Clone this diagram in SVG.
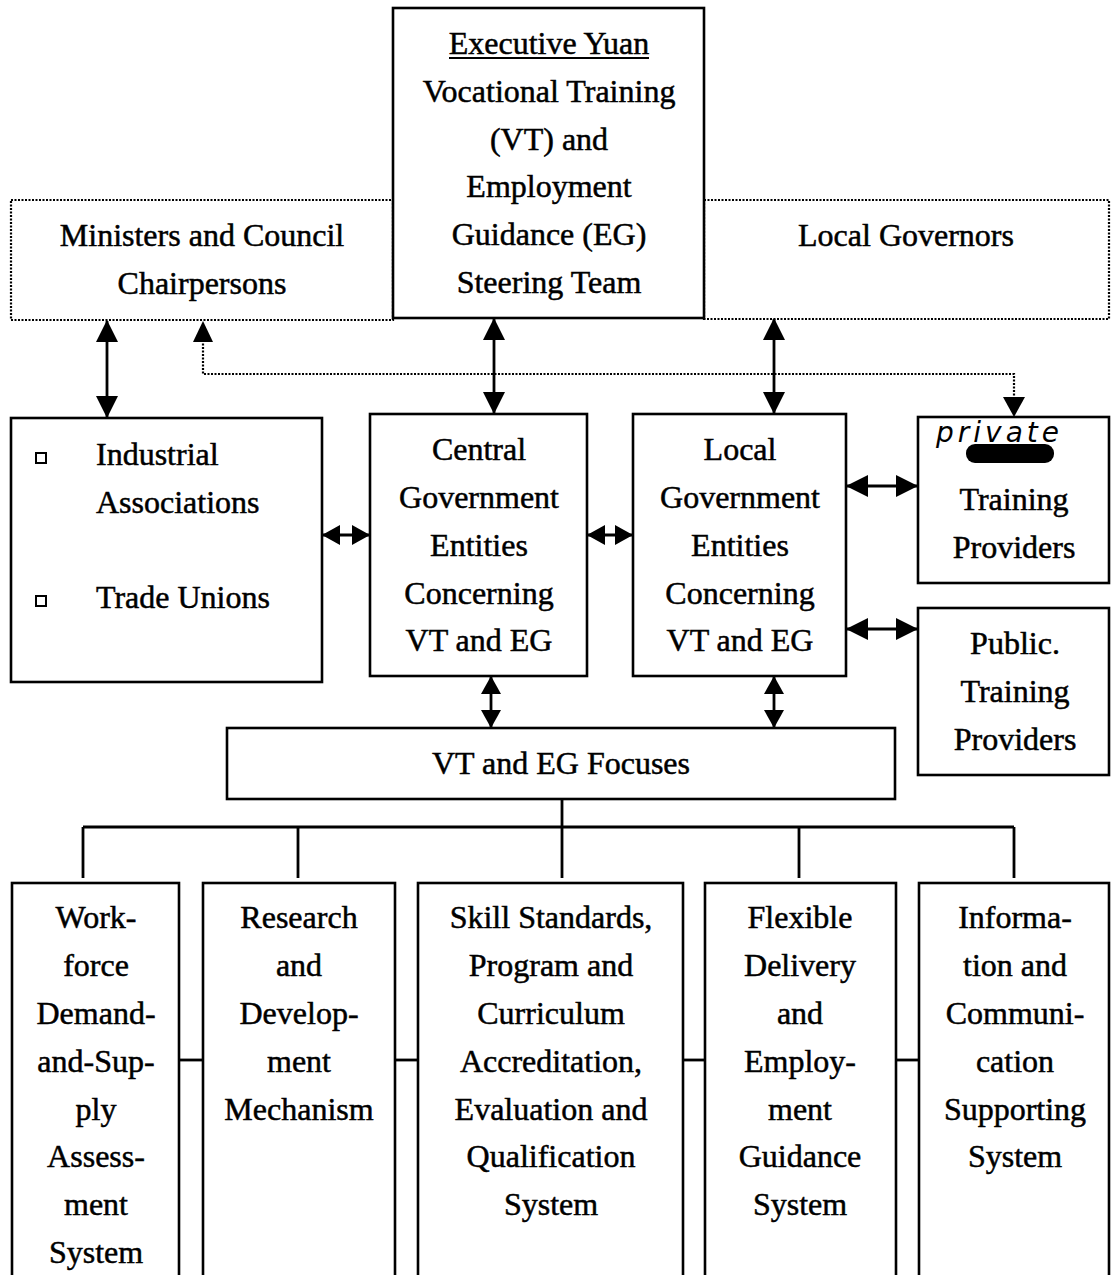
<svg xmlns="http://www.w3.org/2000/svg" width="1111" height="1275" viewBox="0 0 1111 1275">
<style>
  .box{fill:#fff;stroke:#000;stroke-width:2.6}
  .dbox{fill:none;stroke:#000;stroke-width:2.2;stroke-dasharray:2 1.5}
  .t{font-family:"Liberation Serif","Times New Roman",serif;font-size:32px;fill:#000;stroke:#000;stroke-width:0.5;text-anchor:middle}
  .tl{font-family:"Liberation Serif","Times New Roman",serif;font-size:32px;fill:#000;stroke:#000;stroke-width:0.5;text-anchor:start}
  .ln{stroke:#000;stroke-width:2.8;fill:none}
  .dl{stroke:#000;stroke-width:2.2;fill:none;stroke-dasharray:2 1.5}
  .hand{font-family:"DejaVu Sans",sans-serif;font-style:italic;font-size:28px;fill:#000;letter-spacing:4px}
</style>
<defs>
  <marker id="ah" markerUnits="userSpaceOnUse" markerWidth="22" markerHeight="22" refX="21" refY="11" orient="auto-start-reverse" viewBox="0 0 22 22">
    <path d="M0,0 L22,11 L0,22 z" fill="#000"/>
  </marker>
  <marker id="as" markerUnits="userSpaceOnUse" markerWidth="18" markerHeight="20" refX="17" refY="10" orient="auto-start-reverse" viewBox="0 0 18 20">
    <path d="M0,0 L18,10 L0,20 z" fill="#000"/>
  </marker>
</defs>

<g id="connectors">
  <line class="ln" x1="107" y1="321" x2="107" y2="417" marker-start="url(#ah)" marker-end="url(#ah)"/>
  <line class="ln" x1="494" y1="319" x2="494" y2="413" marker-start="url(#ah)" marker-end="url(#ah)"/>
  <line class="ln" x1="774" y1="319" x2="774" y2="413" marker-start="url(#ah)" marker-end="url(#ah)"/>
  <polyline class="dl" points="203,340 203,374 1014,374 1014,400"/>
  <path d="M193,342 L203,321 L213,342 z" fill="#000"/>
  <path d="M1003,397 L1014,417 L1025,397 z" fill="#000"/>
  <line class="ln" x1="323" y1="535" x2="369" y2="535" marker-start="url(#as)" marker-end="url(#as)"/>
  <line class="ln" x1="588" y1="535" x2="632" y2="535" marker-start="url(#as)" marker-end="url(#as)"/>
  <line class="ln" x1="847" y1="486" x2="917" y2="486" marker-start="url(#ah)" marker-end="url(#ah)"/>
  <line class="ln" x1="847" y1="629" x2="917" y2="629" marker-start="url(#ah)" marker-end="url(#ah)"/>
  <line class="ln" x1="491" y1="677" x2="491" y2="727" marker-start="url(#as)" marker-end="url(#as)"/>
  <line class="ln" x1="774" y1="677" x2="774" y2="727" marker-start="url(#as)" marker-end="url(#as)"/>
  <line class="ln" x1="562" y1="799" x2="562" y2="827"/>
  <line class="ln" x1="83" y1="827" x2="1014" y2="827"/>
  <line class="ln" x1="83" y1="827" x2="83" y2="878"/>
  <line class="ln" x1="298" y1="827" x2="298" y2="878"/>
  <line class="ln" x1="562" y1="827" x2="562" y2="878"/>
  <line class="ln" x1="799" y1="827" x2="799" y2="878"/>
  <line class="ln" x1="1014" y1="827" x2="1014" y2="878"/>
  <line class="ln" x1="179" y1="1060" x2="203" y2="1060"/>
  <line class="ln" x1="395" y1="1060" x2="418" y2="1060"/>
  <line class="ln" x1="683" y1="1060" x2="705" y2="1060"/>
  <line class="ln" x1="896" y1="1060" x2="919" y2="1060"/>
</g>

<g id="ministers">
  <rect class="dbox" x="11" y="200" width="382" height="120"/>
  <text class="t" x="202" y="246">Ministers and Council</text>
  <text class="t" x="202" y="294">Chairpersons</text>
</g>

<g id="local-governors">
  <rect class="dbox" x="704" y="200" width="405" height="119"/>
  <text class="t" x="906" y="246">Local Governors</text>
</g>

<g id="executive-yuan">
  <rect class="box" x="393" y="8" width="311" height="310"/>
  <text class="t" x="549" y="54">Executive Yuan</text>
  <line x1="449" y1="58" x2="649" y2="58" stroke="#000" stroke-width="2"/>
  <text class="t" x="549" y="102">Vocational Training</text>
  <text class="t" x="549" y="150">(VT) and</text>
  <text class="t" x="549" y="197">Employment</text>
  <text class="t" x="549" y="245">Guidance (EG)</text>
  <text class="t" x="549" y="293">Steering Team</text>
</g>

<g id="industrial">
  <rect class="box" x="11" y="418" width="311" height="264"/>
  <rect x="36" y="453" width="10" height="10" fill="none" stroke="#000" stroke-width="2"/>
  <rect x="36" y="596" width="10" height="10" fill="none" stroke="#000" stroke-width="2"/>
  <text class="tl" x="96" y="465">Industrial</text>
  <text class="tl" x="96" y="513">Associations</text>
  <text class="tl" x="96" y="608">Trade Unions</text>
</g>

<g id="central">
  <rect class="box" x="370" y="414" width="217" height="262"/>
  <text class="t" x="479" y="460">Central</text>
  <text class="t" x="479" y="508">Government</text>
  <text class="t" x="479" y="556">Entities</text>
  <text class="t" x="479" y="604">Concerning</text>
  <text class="t" x="479" y="651">VT and EG</text>
</g>

<g id="local-gov">
  <rect class="box" x="633" y="414" width="213" height="262"/>
  <text class="t" x="740" y="460">Local</text>
  <text class="t" x="740" y="508">Government</text>
  <text class="t" x="740" y="556">Entities</text>
  <text class="t" x="740" y="604">Concerning</text>
  <text class="t" x="740" y="651">VT and EG</text>
</g>

<g id="private">
  <rect class="box" x="918" y="417" width="191" height="166"/>
  <text class="hand" x="936" y="442">private</text>
  <rect x="966" y="444" width="88" height="19" rx="9" fill="#000"/>
  <text class="t" x="1014" y="510">Training</text>
  <text class="t" x="1014" y="558">Providers</text>
</g>

<g id="public">
  <rect class="box" x="918" y="608" width="191" height="167"/>
  <text class="t" x="1015" y="654">Public.</text>
  <text class="t" x="1015" y="702">Training</text>
  <text class="t" x="1015" y="750">Providers</text>
</g>

<g id="focuses">
  <rect class="box" x="227" y="728" width="668" height="71"/>
  <text class="t" x="561" y="774">VT and EG Focuses</text>
</g>

<g id="workforce">
  <rect class="box" x="12" y="883" width="167" height="410"/>
  <text class="t" x="96" y="928">Work-</text>
  <text class="t" x="96" y="976">force</text>
  <text class="t" x="96" y="1024">Demand-</text>
  <text class="t" x="96" y="1072">and-Sup-</text>
  <text class="t" x="96" y="1120">ply</text>
  <text class="t" x="96" y="1167">Assess-</text>
  <text class="t" x="96" y="1215">ment</text>
  <text class="t" x="96" y="1263">System</text>
</g>

<g id="research">
  <rect class="box" x="203" y="883" width="192" height="410"/>
  <text class="t" x="299" y="928">Research</text>
  <text class="t" x="299" y="976">and</text>
  <text class="t" x="299" y="1024">Develop-</text>
  <text class="t" x="299" y="1072">ment</text>
  <text class="t" x="299" y="1120">Mechanism</text>
</g>

<g id="skill">
  <rect class="box" x="418" y="883" width="265" height="410"/>
  <text class="t" x="551" y="928">Skill Standards,</text>
  <text class="t" x="551" y="976">Program and</text>
  <text class="t" x="551" y="1024">Curriculum</text>
  <text class="t" x="551" y="1072">Accreditation,</text>
  <text class="t" x="551" y="1120">Evaluation and</text>
  <text class="t" x="551" y="1167">Qualification</text>
  <text class="t" x="551" y="1215">System</text>
</g>

<g id="flexible">
  <rect class="box" x="705" y="883" width="191" height="410"/>
  <text class="t" x="800" y="928">Flexible</text>
  <text class="t" x="800" y="976">Delivery</text>
  <text class="t" x="800" y="1024">and</text>
  <text class="t" x="800" y="1072">Employ-</text>
  <text class="t" x="800" y="1120">ment</text>
  <text class="t" x="800" y="1167">Guidance</text>
  <text class="t" x="800" y="1215">System</text>
</g>

<g id="information">
  <rect class="box" x="919" y="883" width="190" height="410"/>
  <text class="t" x="1015" y="928">Informa-</text>
  <text class="t" x="1015" y="976">tion and</text>
  <text class="t" x="1015" y="1024">Communi-</text>
  <text class="t" x="1015" y="1072">cation</text>
  <text class="t" x="1015" y="1120">Supporting</text>
  <text class="t" x="1015" y="1167">System</text>
</g>
</svg>
